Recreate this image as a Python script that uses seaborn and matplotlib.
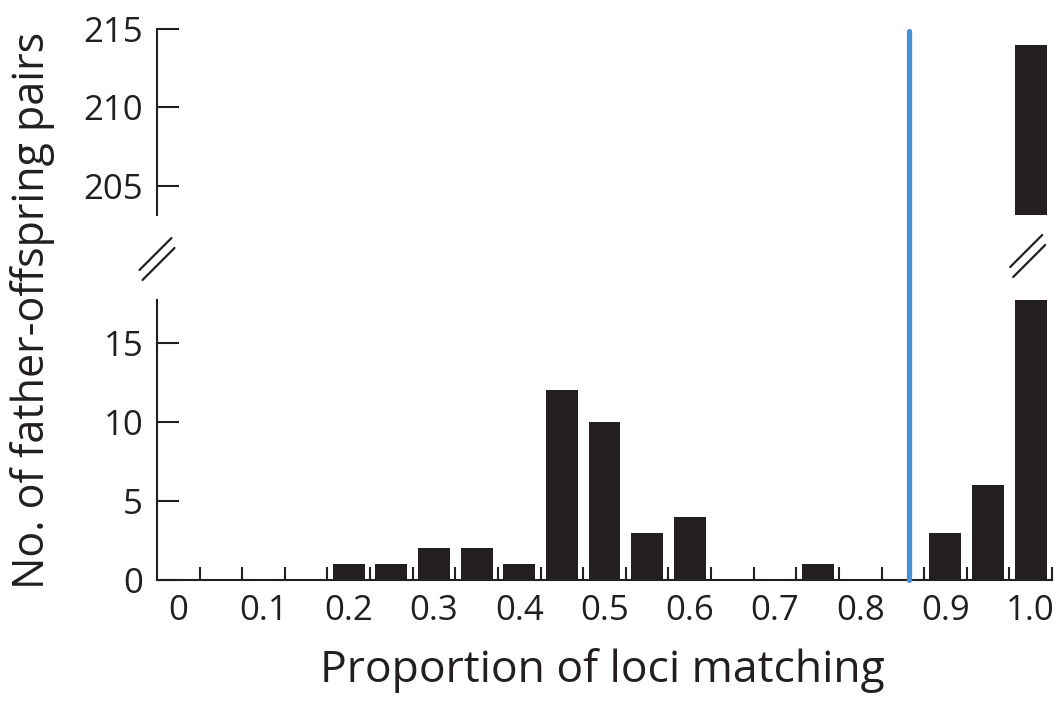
import numpy as np
import pandas as pd
import matplotlib
matplotlib.use("Agg")
import matplotlib.pyplot as plt
import seaborn as sns

# proportion of loci matching (bin centres) and number of pairs per bin
proportions = [0.0, 0.05, 0.1, 0.15, 0.2, 0.25, 0.3, 0.35, 0.4, 0.45, 0.5,
               0.55, 0.6, 0.65, 0.7, 0.75, 0.8, 0.85, 0.9, 0.95, 1.0]
pairs = [0, 0, 0, 0, 1, 1, 2, 2, 1, 12, 10,
         3, 4, 0, 0, 1, 0, 0, 3, 6, 214]
threshold = 0.857

xtick_vals = [0.0, 0.1, 0.2, 0.3, 0.4, 0.5, 0.6, 0.7, 0.8, 0.9, 1.0]
xtick_labels = ["0", "0.1", "0.2", "0.3", "0.4", "0.5", "0.6", "0.7", "0.8", "0.9", "1.0"]
bin_edges = [0.025 + 0.05 * i for i in range(21)]
low_ticks = [0, 5, 10, 15]
high_ticks = [205, 210, 215]

df = pd.DataFrame({"prop": proportions, "pairs": pairs})

sns.set_style("ticks")
plt.rcParams['font.family'] = ['Open Sans', 'DejaVu Sans']

INK = "#231f20"
BLUE = "#4a90d6"
W, H = 1057, 711

fig = plt.figure(figsize=(W / 100, H / 100), dpi=100)
ax_bot = fig.add_axes([157 / W, 1 - 580 / H, (1052 - 157) / W, (580 - 300) / H])
ax_top = fig.add_axes([157 / W, 1 - 215 / H, (1052 - 157) / W, (215 - 29) / H])
ax_top.patch.set_visible(False)

for ax in (ax_bot, ax_top):
    sns.barplot(data=df, x="prop", y="pairs", native_scale=True, width=0.75,
                color=INK, saturation=1, linewidth=0, ax=ax)
    ax.set_xlim(-0.025, 1.025)
    ax.set_xlabel("")
    ax.set_ylabel("")
    for s in ("top", "right"):
        ax.spines[s].set_visible(False)
    ax.spines["left"].set_linewidth(1.5)
    ax.spines["left"].set_color(INK)
    ax.tick_params(axis="y", direction="in", length=16, width=1.5, color=INK,
                   labelsize=25, pad=10, labelcolor=INK)

ax_bot.set_ylim(0, 17.7)
ax_bot.set_yticks(low_ticks)
ax_bot.spines["bottom"].set_linewidth(1.5)
ax_bot.spines["bottom"].set_color(INK)
ax_bot.set_xticks(xtick_vals)
ax_bot.set_xticklabels(xtick_labels)
ax_bot.set_xticks(bin_edges, minor=True)
ax_bot.tick_params(axis="x", which="major", length=0, labelsize=25, pad=10, labelcolor=INK)
ax_bot.tick_params(axis="x", which="minor", direction="in", length=9.5, width=1.5, color=INK)

ax_top.set_ylim(203.15, 215)
ax_top.set_yticks(high_ticks)
ax_top.spines["bottom"].set_visible(False)
ax_top.set_xticks([])

# threshold line spanning both panels
ax_bot.axvline(threshold, ymin=0, ymax=(580 - 31) / 280, color=BLUE, lw=3.8,
               clip_on=False, zorder=5)

# axis break marks
def break_marks(ax, xc, yc):
    bw, bh = ax.bbox.width, ax.bbox.height
    for ox, oy in ((-1.5, 5), (1.5, -5)):
        xs = [xc + (ox - 16) / bw, xc + (ox + 16) / bw]
        ys = [yc + (oy - 16) / bh, yc + (oy + 16) / bh]
        ax.plot(xs, ys, transform=ax.transAxes, color=INK, lw=1.6, clip_on=False)

lo, hi = ax_bot.get_xlim()
break_marks(ax_bot, 0.0, 1 + (300 - 259) / 280)
break_marks(ax_bot, (1.0 - lo) / (hi - lo) - 3 / 895, 1 + (300 - 256) / 280)

fig.text(0.031, 1 - 310 / H, "No. of father-offspring pairs", rotation=90,
         ha="center", va="center", fontsize=31, color=INK)
fig.text(602 / W, 1 - 682 / H, "Proportion of loci matching", ha="center",
         va="baseline", fontsize=32, color=INK)

fig.savefig("out.png", dpi=100)
